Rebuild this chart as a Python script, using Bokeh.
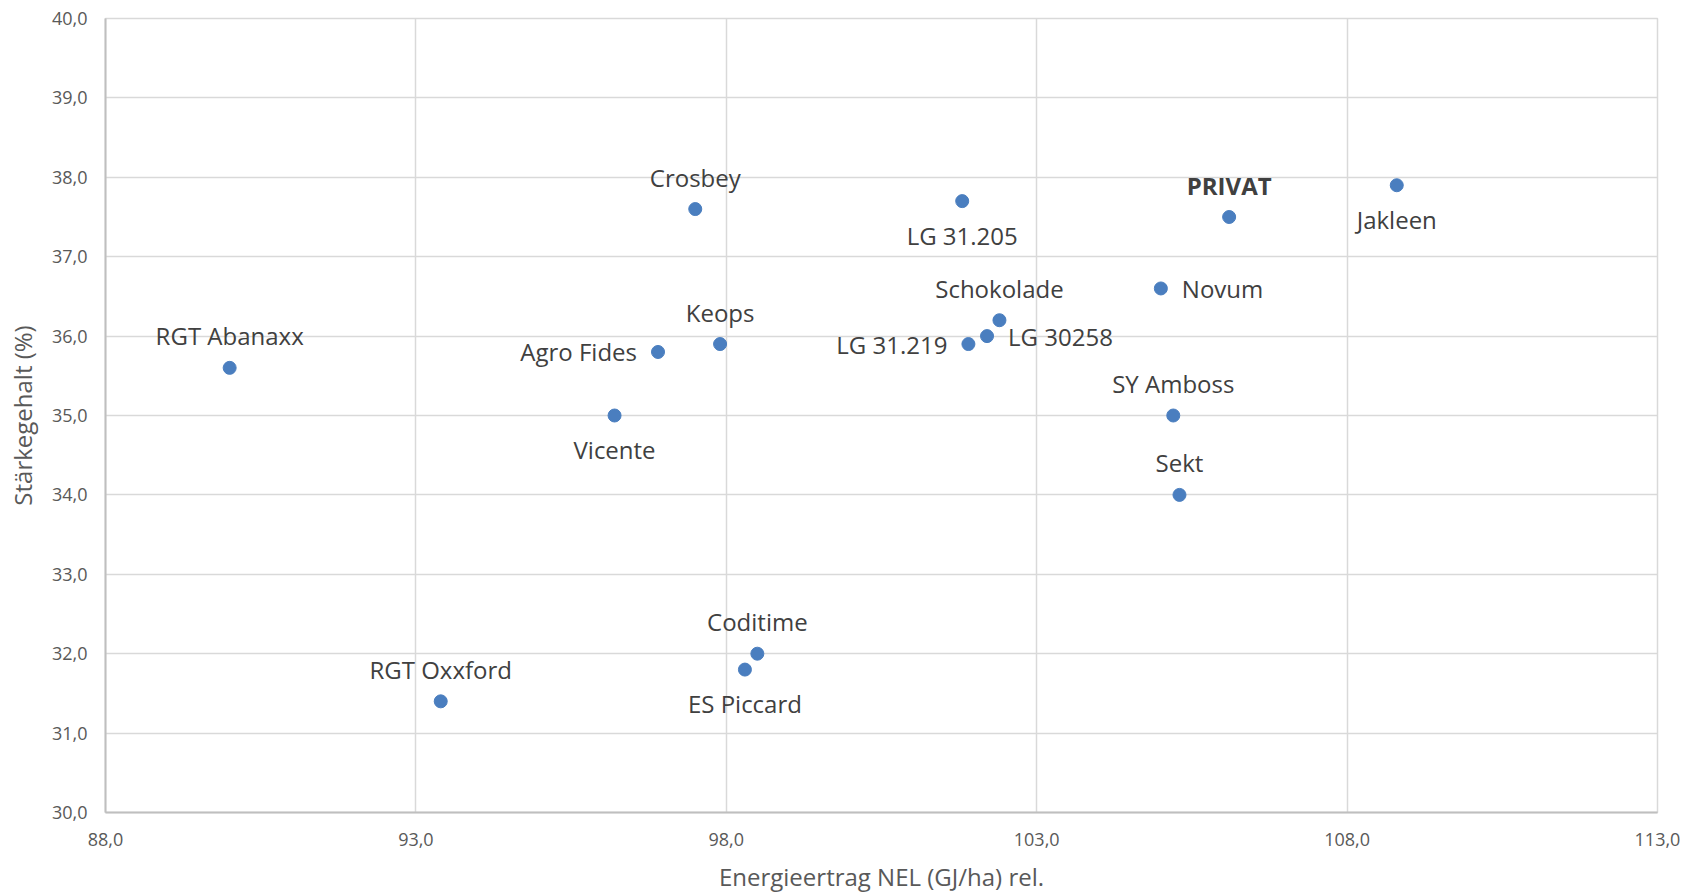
from bokeh.plotting import figure
from bokeh.models import ColumnDataSource, Range1d, FixedTicker, CustomJSTickFormatter
from bokeh.core.properties import value
from bokeh.embed import file_html
from bokeh.resources import INLINE

# Data
names = ["RGT Abanaxx", "RGT Oxxford", "Vicente", "Agro Fides", "Crosbey", "Keops",
         "ES Piccard", "Coditime", "LG 31.205", "LG 31.219", "LG 30258", "Schokolade",
         "Novum", "SY Amboss", "Sekt", "PRIVAT", "Jakleen"]
energy = [90.0, 93.4, 96.2, 96.9, 97.5, 97.9, 98.3, 98.5, 101.8, 101.9, 102.2, 102.4,
          105.0, 105.2, 105.3, 106.1, 108.8]
starch = [35.6, 31.4, 35.0, 35.8, 37.6, 35.9, 31.8, 32.0, 37.7, 35.9, 36.0, 36.2,
          36.6, 35.0, 34.0, 37.5, 37.9]
x_ticks = [88, 93, 98, 103, 108, 113]
y_ticks = [30, 31, 32, 33, 34, 35, 36, 37, 38, 39, 40]
bold_names = ["PRIVAT"]

# Label placement (style)
placement = {
    "RGT Abanaxx": "above", "RGT Oxxford": "above", "Vicente": "below",
    "Agro Fides": "left", "Crosbey": "above", "Keops": "above",
    "ES Piccard": "below", "Coditime": "above", "LG 31.205": "below",
    "LG 31.219": "left", "LG 30258": "right", "Schokolade": "above",
    "Novum": "right", "SY Amboss": "above", "Sekt": "above",
    "PRIVAT": "above", "Jakleen": "below",
}
offs = {"above": (0, -32, "center"), "below": (0, 34, "center"),
        "left": (-21, 0, "right"), "right": (21, 0, "left")}

FONT = "Open Sans"
p = figure(frame_width=1552, frame_height=794, output_backend="svg", toolbar_location=None,
           x_range=Range1d(88, 113), y_range=Range1d(30, 40),
           min_border_left=105, min_border_right=33, min_border_top=18, min_border_bottom=76)
p.outline_line_color = "#d9d9d9"
p.outline_line_width = 1.5

fmt = CustomJSTickFormatter(code="return tick.toFixed(1).replace('.', ',');")
for ax, ticks in ((p.xaxis, x_ticks), (p.yaxis, y_ticks)):
    ax.ticker = FixedTicker(ticks=ticks)
    ax.formatter = fmt
    ax.major_tick_out = 0
    ax.major_tick_in = 0
    ax.minor_tick_out = 0
    ax.minor_tick_in = 0
    ax.axis_line_color = "#bfbfbf"
    ax.axis_line_width = 2
    ax.major_label_text_font = FONT
    ax.major_label_text_font_size = "18px"
    ax.major_label_text_color = "#595959"
    ax.axis_label_text_font = FONT
    ax.axis_label_text_font_size = "24px"
    ax.axis_label_text_font_style = "normal"
    ax.axis_label_text_color = "#595959"

p.xaxis.major_label_standoff = 20
p.xaxis.axis_label_standoff = 11
p.yaxis.major_label_standoff = 18
p.yaxis.axis_label_standoff = 10

p.xaxis.axis_label = "Energieertrag NEL (GJ/ha) rel."
p.yaxis.axis_label = "Stärkegehalt (%)"
p.xgrid.ticker = FixedTicker(ticks=x_ticks)
p.ygrid.ticker = FixedTicker(ticks=y_ticks)
for g in (p.xgrid, p.ygrid):
    g.grid_line_color = "#d9d9d9"
    g.grid_line_width = 1.5

src = ColumnDataSource(dict(x=energy, y=starch, name=names))
p.scatter("x", "y", source=src, size=13, fill_color="#4a7ebf", line_color="#4a7ebf")

for pos in ("above", "below", "left", "right"):
    for bold in (False, True):
        idx = [i for i, n in enumerate(names)
               if placement[n] == pos and ((n in bold_names) == bold)]
        if not idx:
            continue
        dx, dy, align = offs[pos]
        s = ColumnDataSource(dict(x=[energy[i] for i in idx], y=[starch[i] for i in idx],
                                  t=[names[i] for i in idx]))
        p.text("x", "y", text="t", source=s, x_offset=dx, y_offset=dy,
               text_align=align, text_baseline="middle",
               text_font=value(FONT), text_font_size="24px",
               text_font_style="bold" if bold else "normal",
               text_color="#404040")

open("out.html", "w").write(file_html(p, INLINE))
